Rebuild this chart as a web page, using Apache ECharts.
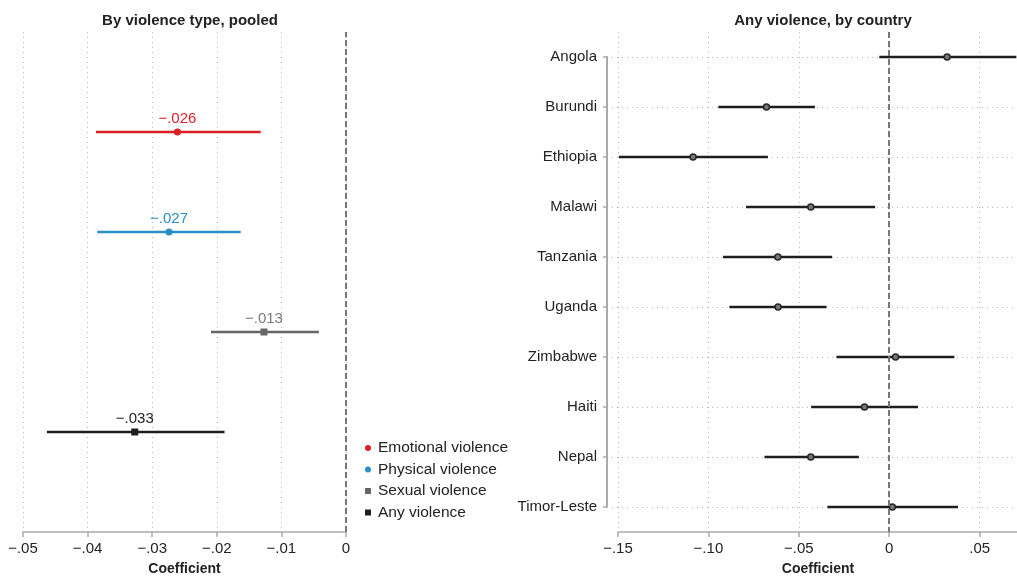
<!DOCTYPE html>
<html>
<head>
<meta charset="utf-8">
<script src="https://cdn.jsdelivr.net/npm/echarts@6/dist/echarts.min.js"></script>
<style>
html, body { margin: 0; padding: 0; background: #fff; }
#chart { width: 1017px; height: 576px; }
</style>
</head>
<body>
<div id="chart"></div>
<script>
var dom = document.getElementById("chart");
var myChart = echarts.init(dom);

// left panel: pooled estimates by violence type
var typeNames = ['Emotional violence', 'Physical violence', 'Sexual violence', 'Any violence'];
var typeRows = [4, 3, 2, 1];
var typeCoef = [-0.0261, -0.0274, -0.0127, -0.0327];
var typeLower = [-0.0387, -0.0385, -0.0209, -0.0463];
var typeUpper = [-0.0132, -0.0163, -0.0042, -0.0188];
var typeColors = ['#dc1f26', '#2a8fc4', '#666666', '#1e1e1e'];
var typeLabelColors = ['#dc1f26', '#2a8fc4', '#7a7a7a', '#1e1e1e'];
var typeIcons = ['circle', 'circle', 'rect', 'rect'];

// right panel: any violence by country
var countries = ['Angola', 'Burundi', 'Ethiopia', 'Malawi', 'Tanzania', 'Uganda', 'Zimbabwe', 'Haiti', 'Nepal', 'Timor-Leste'];
var countryCoef = [0.032, -0.0679, -0.1085, -0.0434, -0.0616, -0.0615, 0.0035, -0.0137, -0.0434, 0.0017];
var countryLower = [-0.0055, -0.0945, -0.1495, -0.0792, -0.0919, -0.0884, -0.0292, -0.0432, -0.069, -0.0342];
var countryUpper = [0.0703, -0.0411, -0.0671, -0.0078, -0.0316, -0.0347, 0.036, 0.0159, -0.0168, 0.038];

var FONT = 'Liberation Sans, Arial, sans-serif';
var gridLine = { show: true, lineStyle: { color: '#b8b8b8', type: [1, 4], width: 1 } };

function fmt(v, dec) {
  if (Math.abs(v) < 1e-9) return '0';
  var s = Math.abs(v).toFixed(dec).replace(/^0\./, '.');
  return (v < 0 ? '\u2212' : '') + s;
}

var series = [];
typeNames.forEach(function (name, i) {
  series.push({
    name: 'ci ' + name,
    type: 'line',
    xAxisIndex: 0, yAxisIndex: 0,
    showSymbol: false, silent: true,
    lineStyle: { color: typeColors[i], width: 2.5 },
    data: [[typeLower[i], typeRows[i]], [typeUpper[i], typeRows[i]]],
    z: 3
  });
  series.push({
    name: name,
    type: 'scatter',
    xAxisIndex: 0, yAxisIndex: 0,
    symbol: typeIcons[i],
    symbolSize: 7,
    itemStyle: { color: typeColors[i], opacity: 1 },
    label: {
      show: true, position: 'top', distance: 2,
      color: typeLabelColors[i], fontSize: 15, fontFamily: FONT,
      formatter: function (p) { return fmt(p.value[0], 3); }
    },
    data: [[typeCoef[i], typeRows[i]]],
    z: 4
  });
});
// reference line at zero, left
series.push({
  name: 'ref left', type: 'line', xAxisIndex: 0, yAxisIndex: 0, data: [], silent: true,
  markLine: { symbol: 'none', silent: true, label: { show: false },
    lineStyle: { color: '#777', type: [6, 3], width: 2 },
    data: [{ xAxis: 0 }] }
});

// right panel: one line series with breaks between countries
var ciData = [];
countries.forEach(function (c, i) {
  ciData.push([countryLower[i], i]);
  ciData.push([countryUpper[i], i]);
  ciData.push(['-', '-']);
});
series.push({
  name: 'ci country', type: 'line', xAxisIndex: 1, yAxisIndex: 1,
  showSymbol: false, silent: true, connectNulls: false,
  lineStyle: { color: '#1e1e1e', width: 2.5 },
  data: ciData, z: 3
});
series.push({
  name: 'ref right', type: 'line', xAxisIndex: 1, yAxisIndex: 1, data: [], silent: true,
  markLine: { symbol: 'none', silent: true, label: { show: false },
    lineStyle: { color: '#777', type: [6, 3], width: 2 },
    data: [{ xAxis: 0 }] }
});
series.push({
  name: 'coef country', type: 'scatter', xAxisIndex: 1, yAxisIndex: 1,
  symbol: 'circle', symbolSize: 6,
  itemStyle: { color: '#777', borderColor: '#262626', borderWidth: 1.5, opacity: 1 },
  data: countries.map(function (c, i) { return [countryCoef[i], i]; }),
  z: 4
});

var axisTextStyle = { color: '#222', fontSize: 15, fontFamily: FONT };
var nameStyle = { color: '#222', fontSize: 14, fontWeight: 'bold', fontFamily: FONT };

option = {
  animation: false,
  textStyle: { fontFamily: FONT },
  title: [{
    text: 'By violence type, pooled', left: 185, top: 8, textAlign: 'center',
    textStyle: { fontSize: 15, fontWeight: 'bold', color: '#222', fontFamily: FONT }
  }, {
    text: 'Any violence, by country', left: 818, top: 8, textAlign: 'center',
    textStyle: { fontSize: 15, fontWeight: 'bold', color: '#222', fontFamily: FONT }
  }],
  legend: {
    orient: 'vertical', left: 360, top: 435,
    itemWidth: 6, itemHeight: 6, itemGap: 5.5,
    textStyle: { color: '#222', fontSize: 15.5, fontFamily: FONT, padding: [0, 0, 0, 2] },
    selectedMode: false,
    data: typeNames.map(function (n, i) { return { name: n, icon: typeIcons[i] }; })
  },
  grid: [
    { left: 23, right: 671, top: 32, bottom: 44, outerBoundsMode: 'none' },
    { left: 618, right: -1, top: 32, bottom: 44, outerBoundsMode: 'none' },
    { left: 612, right: -1, top: 57, bottom: 69, outerBoundsMode: 'none' }
  ],
  xAxis: [{
    gridIndex: 0, type: 'value', min: -0.05, max: 0, interval: 0.01,
    axisLine: { show: true, onZero: false, lineStyle: { color: '#aaa', width: 1.5 } },
    axisTick: { show: true, length: 5, lineStyle: { color: '#aaa', width: 1.5 } },
    axisLabel: Object.assign({ margin: 9, formatter: function (v) { return fmt(v, 2); } }, axisTextStyle),
    splitLine: gridLine,
    name: 'Coefficient', nameLocation: 'middle', nameGap: 30, nameTextStyle: nameStyle
  }, {
    gridIndex: 1, type: 'value', min: -0.15, max: 0.0712, interval: 0.05,
    axisLine: { show: true, onZero: false, lineStyle: { color: '#aaa', width: 1.5 } },
    axisTick: { show: true, length: 5, lineStyle: { color: '#aaa', width: 1.5 } },
    axisLabel: Object.assign({ margin: 9, showMaxLabel: false, formatter: function (v) {
      var k = Math.round(v / 0.05);
      if (Math.abs(v - k * 0.05) > 1e-6) return '';
      return fmt(v, 2);
    } }, axisTextStyle),
    splitLine: gridLine,
    name: 'Coefficient', nameLocation: 'middle', nameGap: 30, nameTextStyle: nameStyle
  }, {
    gridIndex: 2, type: 'value', min: 0, max: 1, show: false
  }],
  yAxis: [{
    gridIndex: 0, type: 'value', min: 0, max: 5, interval: 1, show: false
  }, {
    gridIndex: 1, type: 'category', data: countries, inverse: true, show: false
  }, {
    gridIndex: 2, type: 'category', data: countries, inverse: true, boundaryGap: false,
    offset: 5,
    axisLine: { show: true, onZero: false, lineStyle: { color: '#aaa', width: 2 } },
    axisTick: { show: true, length: 4, lineStyle: { color: '#aaa', width: 1.5 } },
    axisLabel: Object.assign({ margin: 10 }, axisTextStyle),
    splitLine: { show: true, lineStyle: { color: '#b8b8b8', type: [1, 4], width: 1 } }
  }],
  series: series
};

if (option && typeof option === "object") {
    myChart.setOption(option, true);
}
</script>
</body>
</html>
